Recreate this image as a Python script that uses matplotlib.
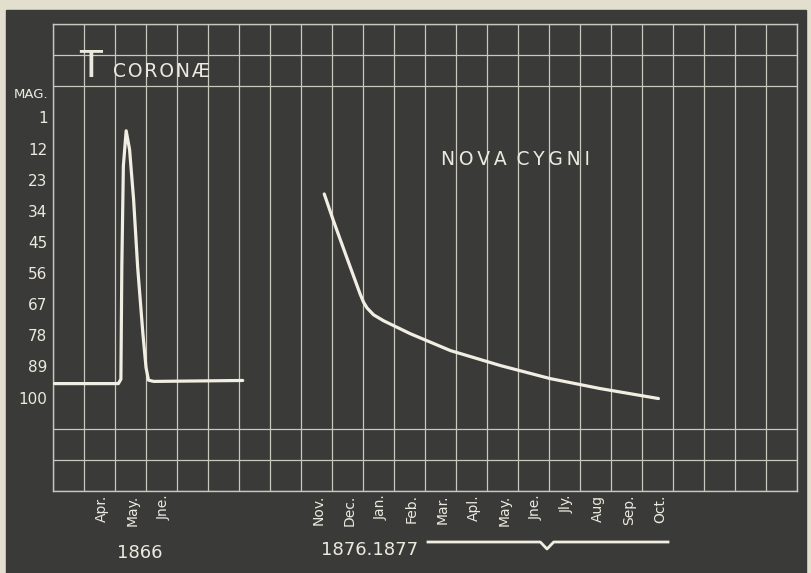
import matplotlib
matplotlib.use("Agg")
import matplotlib.pyplot as plt
from matplotlib.patches import Rectangle

# ---------------- data ----------------
# x = month column on the chart grid, y = magnitude
tcrb_x = [0.05, 2.11, 2.19, 2.22, 2.27, 2.36, 2.47, 2.60, 2.73, 2.90, 3.00, 3.08, 3.25, 6.12]
tcrb_mag = [9.55, 9.55, 9.41, 5.80, 2.56, 1.43, 2.03, 3.64, 5.80, 7.95, 9.03, 9.44, 9.48, 9.45]

nova_x = [8.75, 9.05, 9.48, 9.91, 10.02, 10.13, 10.34, 10.66, 11.53, 12.82, 14.43, 16.04, 17.65, 19.53]
nova_mag = [3.46, 4.33, 5.51, 6.68, 6.94, 7.12, 7.34, 7.53, 7.95, 8.49, 8.97, 9.39, 9.71, 10.03]

mag_ticks = [1, 2, 3, 4, 5, 6, 7, 8, 9, 10]
mag_labels = ["1", "12", "23", "34", "45", "56", "67", "78", "89", "100"]

months_1866 = [1, 2, 3]
month_labels_1866 = ["Apr.", "May.", "Jne."]
months_1876 = [8, 9, 10, 11, 12, 13, 14, 15, 16, 17, 18, 19]
month_labels_1876 = ["Nov.", "Dec.", "Jan.", "Feb.", "Mar.", "Apl.", "May.",
                     "Jne.", "Jly.", "Aug", "Sep.", "Oct."]

# ---------------- style ----------------
BOARD = "#3a3a38"
GRID = "#c9c8bf"
INK = "#eceadf"
CURVE = "#f1efe3"

W, H = 812, 573
fig = plt.figure(figsize=(W / 100, H / 100), dpi=100)
fig.patch.set_facecolor("#e3dfcf")
fig.add_artist(Rectangle((6 / W, 0), (806 - 6) / W, (H - 10) / H,
                         transform=fig.transFigure, color=BOARD, zorder=0))

ax = fig.add_axes([53 / W, 1 - 491 / H, 744 / W, 467 / H])
ax.set_facecolor(BOARD)
ax.set_xlim(0, 24)
ax.set_ylim(13, -2)

# grid
ax.set_xticks(range(0, 25), minor=True)
ax.set_yticks(range(-2, 14), minor=True)
ax.grid(which="minor", color=GRID, linewidth=0.9)
ax.grid(which="major", visible=False)
for s in ax.spines.values():
    s.set_color(GRID)
    s.set_linewidth(1.0)
ax.tick_params(which="both", length=0)

# y ticks
ax.set_yticks(mag_ticks)
ax.set_yticklabels(mag_labels)
ax.tick_params(axis="y", pad=4, labelsize=11, labelcolor=INK)

# x ticks (month labels in the middle of each month column)
pos = [m + 0.58 for m in months_1866 + months_1876]
ax.set_xticks(pos)
ax.set_xticklabels(month_labels_1866 + month_labels_1876, rotation=90,
                   va="top", ha="center")
ax.tick_params(axis="x", pad=2.5, labelsize=10, labelcolor=INK)

# curves
ax.plot(tcrb_x, tcrb_mag, color=CURVE, lw=2.3, solid_capstyle="round",
        solid_joinstyle="round", zorder=3)
ax.plot(nova_x, nova_mag, color=CURVE, lw=2.3, solid_capstyle="round",
        solid_joinstyle="round", zorder=3)

# titles
ax.text(0.050, 0.8865, "T", transform=ax.transAxes, color=INK, fontsize=27,
        ha="center", va="baseline")
ax.text(0.0806, 0.8865, "C\u200aO\u200aR\u200aO\u200aN\u200aÆ", transform=ax.transAxes,
        color=INK, fontsize=13.5, ha="left", va="baseline")
ax.text(0.5215, 0.698, "N\u2009O\u2009V\u2009A\u2009 C\u2009Y\u2009G\u2009N\u2009I",
        transform=ax.transAxes, color=INK, fontsize=13.5, ha="left", va="baseline")
ax.text(-0.0067, 0.85, "MAG.", transform=ax.transAxes, color=INK, fontsize=9.5,
        ha="right", va="center")

# year labels
ax.text((140 - 53) / 744, -0.133, "1866", transform=ax.transAxes, color=INK,
        fontsize=13, ha="center", va="center")
ax.text((370 - 53) / 744, -0.126, "1876.1877", transform=ax.transAxes, color=INK,
        fontsize=13, ha="center", va="center")

# brace under the 1876-77 months
bx0, bx1, bmid = (428 - 53) / 744, (668 - 53) / 744, (547 - 53) / 744
by, bdip = -(542 - 491) / 467, -(549 - 491) / 467
ax.plot([bx0, bmid - 0.009, bmid, bmid + 0.009, bx1],
        [by, by, bdip, by, by], transform=ax.transAxes, color=CURVE, lw=2.0,
        clip_on=False, solid_joinstyle="round")

fig.savefig("out.png", dpi=100, facecolor=fig.get_facecolor())
